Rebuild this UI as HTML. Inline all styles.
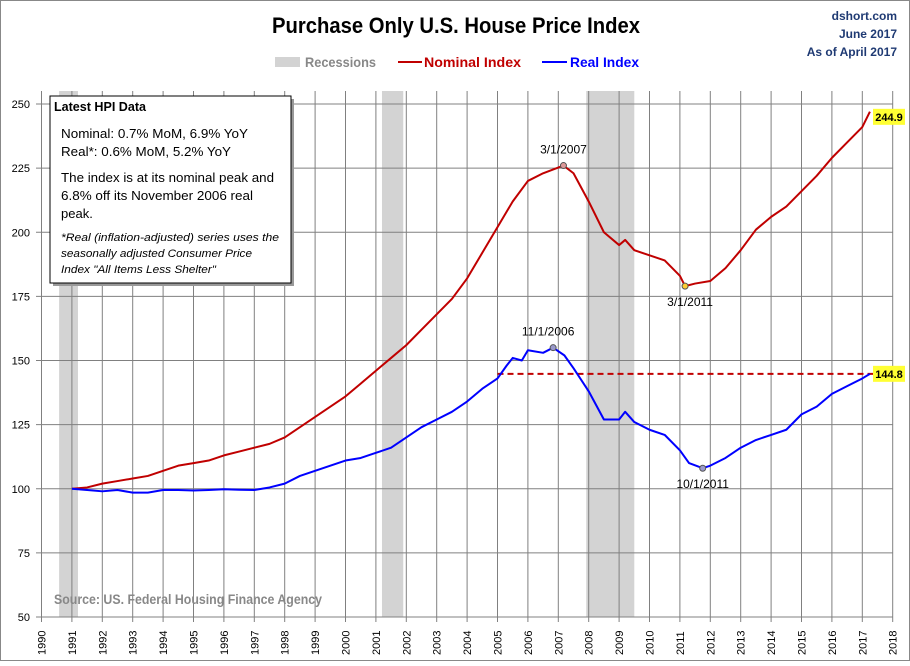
<!DOCTYPE html>
<html><head><meta charset="utf-8"><style>
body{margin:0;background:#fff;}
svg text{font-family:"Liberation Sans",sans-serif;}
</style></head><body>
<svg width="910" height="661" xmlns="http://www.w3.org/2000/svg">
<rect x="0.5" y="0.5" width="909" height="660" fill="#fff" stroke="#888"/>
<g id="rec"></g>
<g id="grid"></g>
<g id="axes"></g>
<g id="series"></g>
<text x="272" y="33" font-size="22" font-weight="bold" textLength="368" lengthAdjust="spacingAndGlyphs">Purchase Only U.S. House Price Index</text>
<text x="897" y="20" text-anchor="end" font-size="12" font-weight="bold" fill="#1f3a73">dshort.com</text>
<text x="897" y="38" text-anchor="end" font-size="12" font-weight="bold" fill="#1f3a73">June 2017</text>
<text x="897" y="56" text-anchor="end" font-size="12" font-weight="bold" fill="#1f3a73">As of April 2017</text>
<g>
<rect x="275" y="57" width="25" height="10" fill="#d3d3d3"/>
<text x="305" y="67" font-size="14" font-weight="bold" fill="#888" textLength="71" lengthAdjust="spacingAndGlyphs">Recessions</text>
<line x1="398" y1="62" x2="422" y2="62" stroke="#c00000" stroke-width="2"/>
<text x="424" y="67" font-size="14" font-weight="bold" fill="#c00000" textLength="97" lengthAdjust="spacingAndGlyphs">Nominal Index</text>
<line x1="542" y1="62" x2="567" y2="62" stroke="#0000ff" stroke-width="2"/>
<text x="570" y="67" font-size="14" font-weight="bold" fill="#0000ff" textLength="69" lengthAdjust="spacingAndGlyphs">Real Index</text>
</g>
<g>
<rect x="53" y="99" width="241" height="187" fill="#999"/>
<rect x="50" y="96" width="241" height="187" fill="#fff" stroke="#000"/>
<text x="54" y="111" font-size="12.5" font-weight="bold" textLength="92" lengthAdjust="spacingAndGlyphs">Latest HPI Data</text>
<text x="61" y="138" font-size="13" textLength="187" lengthAdjust="spacingAndGlyphs">Nominal:  0.7% MoM, 6.9% YoY</text>
<text x="61" y="156" font-size="13" textLength="170" lengthAdjust="spacingAndGlyphs">Real*:  0.6% MoM, 5.2% YoY</text>
<text x="61" y="182" font-size="13" textLength="213" lengthAdjust="spacingAndGlyphs">The index is at its nominal peak and</text>
<text x="61" y="200" font-size="13" textLength="192" lengthAdjust="spacingAndGlyphs">6.8% off its November 2006 real</text>
<text x="61" y="218" font-size="13">peak.</text>
<text x="61" y="241" font-size="11" font-style="italic" textLength="218" lengthAdjust="spacingAndGlyphs">*Real (inflation-adjusted) series uses the</text>
<text x="61" y="257" font-size="11" font-style="italic" textLength="191" lengthAdjust="spacingAndGlyphs">seasonally adjusted Consumer Price</text>
<text x="61" y="273" font-size="11" font-style="italic" textLength="155" lengthAdjust="spacingAndGlyphs">Index "All Items Less Shelter"</text>
</g>
<text x="54" y="604" font-size="13.5" font-weight="bold" fill="#888" textLength="268" lengthAdjust="spacingAndGlyphs">Source: US. Federal Housing Finance Agency</text>
</svg>
<script>
const recessions=[[1990.58,1991.2],[2001.2,2001.9],[2007.92,2009.5]];
const nomYears=[1991,1991.5,1992,1992.5,1993,1993.5,1994,1994.5,1995,1995.5,1996,1996.5,1997,1997.5,1998,1998.5,1999,1999.5,2000,2000.5,2001,2001.5,2002,2002.5,2003,2003.5,2004,2004.5,2005,2005.5,2006,2006.5,2007.17,2007.5,2008,2008.5,2009,2009.2,2009.5,2010,2010.5,2011,2011.17,2011.5,2012,2012.5,2013,2013.5,2014,2014.5,2015,2015.5,2016,2016.5,2017,2017.25];
const nomVals=[100,100.5,102,103,104,105,107,109,110,111,113,114.5,116,117.5,120,124,128,132,136,141,146,151,156,162,168,174,182,192,202,212,220,223,226,223,212,200,195,197,193,191,189,183,179,180,181,186,193,201,206,210,216,222,229,235,241,247];
const realYears=[1991,1991.5,1992,1992.5,1993,1993.5,1994,1994.5,1995,1995.5,1996,1996.5,1997,1997.5,1998,1998.5,1999,1999.5,2000,2000.5,2001,2001.5,2002,2002.5,2003,2003.5,2004,2004.5,2005,2005.3,2005.5,2005.8,2006,2006.5,2006.83,2007.2,2007.5,2008,2008.5,2009,2009.2,2009.5,2010,2010.5,2011,2011.3,2011.75,2012,2012.5,2013,2013.5,2014,2014.5,2015,2015.5,2016,2016.5,2017,2017.25];
const realVals=[100,99.5,99,99.5,98.5,98.5,99.5,99.5,99.3,99.5,99.8,99.6,99.5,100.5,102,105,107,109,111,112,114,116,120,124,127,130,134,139,143,148,151,150,154,153,155,152,147,138,127,127,130,126,123,121,115,110,108,109,112,116,119,121,123,129,132,137,140,143,144.8];
const yTicks=[50,75,100,125,150,175,200,225,250];
const xTicks=[];for(let y=1990;y<=2018;y++)xTicks.push(y);
const ns="http://www.w3.org/2000/svg";
const X=t=>41.5+(t-1990)*30.4;
const Y=v=>617-(v-50)*2.565;
function mk(tag,attrs,parent){const e=document.createElementNS(ns,tag);for(const k in attrs)e.setAttribute(k,attrs[k]);document.getElementById(parent).appendChild(e);return e;}
xTicks.forEach(t=>{const l=mk('line',{x1:X(t),x2:X(t),y1:91,y2:622,stroke:'#808080','stroke-width':1},'grid');


const tx=mk('text',{x:0,y:0,'font-size':11,transform:`translate(${X(t)+4},${655}) rotate(-90)`},'axes');tx.textContent=t;

});
yTicks.forEach(v=>{const l=mk('line',{x1:36,x2:893,y1:Y(v),y2:Y(v),stroke:'#808080','stroke-width':1},'grid');


const tx=mk('text',{x:30,y:Y(v)+4,'font-size':11,'text-anchor':'end'},'axes');tx.textContent=v;

});
recessions.forEach(r=>{const e=mk('rect',{x:X(r[0]),y:91,width:X(r[1])-X(r[0]),height:617-91,fill:'#d3d3d3'},'rec');

});
const ax=mk('line',{x1:41.5,x2:893,y1:617,y2:617,stroke:'#808080'},'axes');


function line(xs,vs,color,name){const p=mk('polyline',{points:xs.map((t,i)=>X(t)+','+Y(vs[i])).join(' '),fill:'none',stroke:color,'stroke-width':2,'stroke-linejoin':'round'},'series');

}
const lastReal=realVals[realVals.length-1];
const d=mk('line',{x1:X(2005),x2:893,y1:Y(lastReal),y2:Y(lastReal),stroke:'#c00000','stroke-width':2,'stroke-dasharray':'6,4'},'series');


line(nomYears,nomVals,'#c00000','nominal-line');
line(realYears,realVals,'#0000ff','real-line');
function mark(t,v,fill,lbl,lx,ly,name){const c=mk('circle',{cx:X(t),cy:Y(v),r:3,fill:fill,stroke:'#555'},'series');


const tx=mk('text',{x:lx,y:ly,'font-size':12,'text-anchor':'middle'},'series');tx.textContent=lbl;

}
mark(2007.17,226,'#d99','3/1/2007',X(2007.17),Y(226)-12,'nominal-peak');
mark(2011.17,179,'#fc3','3/1/2011',X(2011.17)+5,Y(179)+20,'nominal-trough');
mark(2006.83,155,'#99c','11/1/2006',X(2006.83)-5,Y(155)-12,'real-peak');
mark(2011.75,108,'#99c','10/1/2011',X(2011.75),Y(108)+20,'real-trough');
function endLabel(v,txt,name){const r=mk('rect',{x:873,y:Y(v)-8,width:32,height:16,fill:'#ffff33'},'series');


const tx=mk('text',{x:889,y:Y(v)+4,'font-size':11,'font-weight':'bold','text-anchor':'middle'},'series');tx.textContent=txt;

}
endLabel(nomVals[nomVals.length-1]-2,'244.9','nominal-end-label');
endLabel(lastReal,'144.8','real-end-label');
</script>
</body></html>
